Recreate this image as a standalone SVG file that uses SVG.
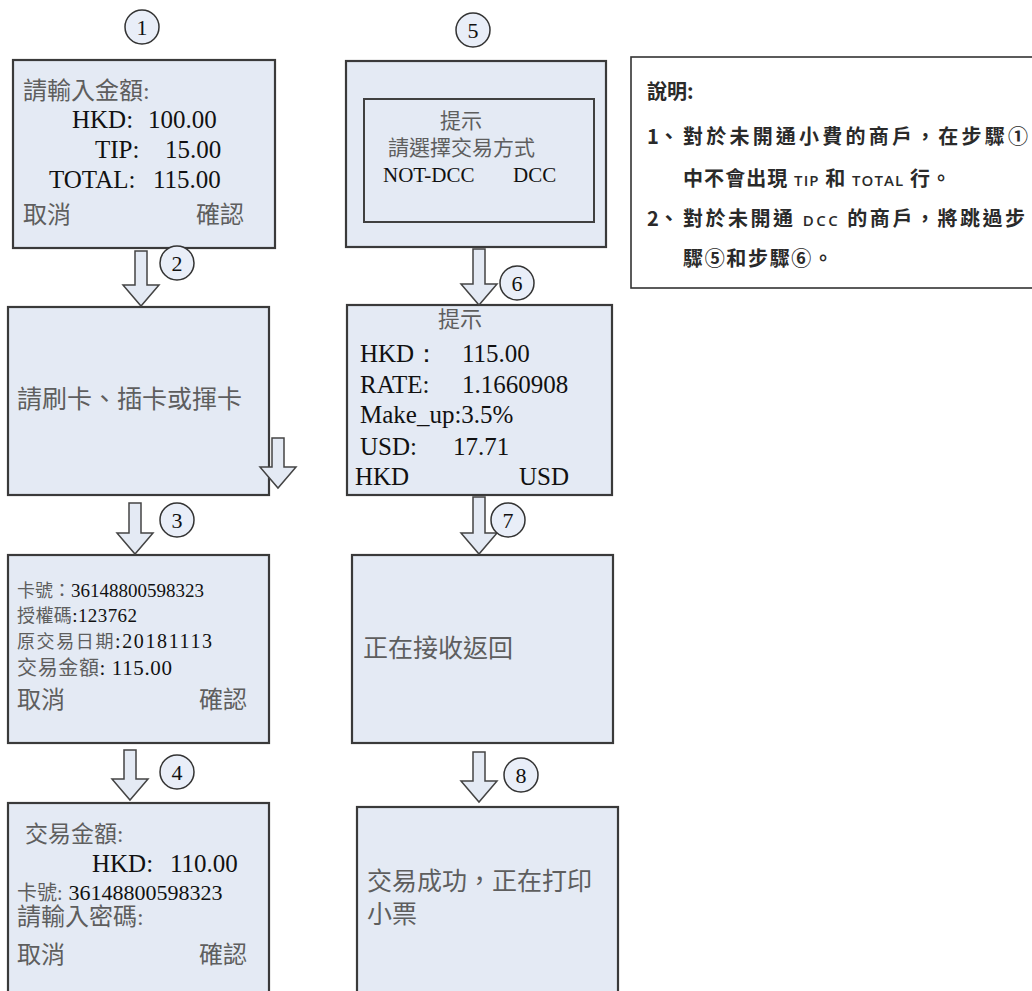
<svg xmlns="http://www.w3.org/2000/svg" width="1032" height="991" viewBox="0 0 1032 991">
<style>
.box{fill:#e4eaf4;stroke:#3a3a3a;stroke-width:2.2}
.inner{fill:#e4eaf4;stroke:#404040;stroke-width:2}
.arr{fill:#e4eaf4;stroke:#444;stroke-width:1.5;stroke-linejoin:miter}
.step{fill:#e9eef8;stroke:#333;stroke-width:1.5}
.num{font-family:"Liberation Serif",serif;font-size:22px;fill:#111;text-anchor:middle}
.cj{font-family:"Liberation Serif","Noto Sans CJK TC",serif;fill:#5e5e5e}
.en{font-family:"Liberation Serif",serif;fill:#111}
.note{font-family:"Noto Sans CJK TC","Noto Sans",sans-serif;fill:#2a2a2a;font-size:20px;font-weight:bold}
.lat{font-family:"Open Sans","Noto Sans",sans-serif;font-size:15px;font-weight:600}
</style>
<rect width="1032" height="991" fill="#ffffff"/>

<g id="step1">
<rect class="box" x="13" y="60" width="262" height="188"/>
<text class="cj" x="23" y="99" font-size="24">請輸入金額:</text>
<text class="en" x="72" y="128" font-size="25">HKD:</text>
<text class="en" x="148" y="128" font-size="25">100.00</text>
<text class="en" x="95" y="158" font-size="25">TIP:</text>
<text class="en" x="165" y="158" font-size="25">15.00</text>
<text class="en" x="49" y="188" font-size="25">TOTAL:</text>
<text class="en" x="153" y="188" font-size="25">115.00</text>
<text class="cj" x="23" y="223" font-size="24">取消</text>
<text class="cj" x="196" y="223" font-size="24">確認</text>
</g>

<g id="step2">
<rect class="box" x="8" y="307" width="261" height="188"/>
<text class="cj" x="17" y="408" font-size="25">請刷卡、插卡或揮卡</text>
</g>

<g id="step3">
<rect class="box" x="8" y="555" width="261" height="188"/>
<text x="17" y="597" font-size="18"><tspan class="cj">卡號：</tspan><tspan class="en" font-size="19">36148800598323</tspan></text>
<text x="17" y="622" font-size="18" textLength="120"><tspan class="cj">授權碼</tspan><tspan class="en" font-size="19">:123762</tspan></text>
<text x="17" y="648" font-size="18" textLength="195"><tspan class="cj">原交易日期</tspan><tspan class="en" font-size="20">:20181113</tspan></text>
<text x="17" y="675" font-size="20" textLength="155"><tspan class="cj">交易金額</tspan><tspan class="en" font-size="21">: 115.00</tspan></text>
<text class="cj" x="17" y="708" font-size="24" fill="#4a4a4a">取消</text>
<text class="cj" x="199" y="708" font-size="24">確認</text>
</g>

<g id="step4">
<rect class="box" x="8" y="803" width="261" height="190"/>
<text class="cj" x="25" y="842" font-size="23">交易金額:</text>
<text class="en" x="92" y="872" font-size="25">HKD:</text>
<text class="en" x="170" y="872" font-size="25">110.00</text>
<text x="17" y="900"><tspan class="cj" font-size="20">卡號:</tspan><tspan class="en" font-size="22" dx="6">36148800598323</tspan></text>
<text class="cj" x="17" y="925" font-size="24">請輸入密碼:</text>
<text class="cj" x="17" y="963" font-size="24" fill="#4a4a4a">取消</text>
<text class="cj" x="199" y="963" font-size="24">確認</text>
</g>

<g id="step5">
<rect class="box" x="346" y="61" width="260" height="186"/>
<rect class="inner" x="364" y="99" width="230" height="123"/>
<text class="cj" x="440" y="128" font-size="21">提示</text>
<text class="cj" x="388" y="155" font-size="21">請選擇交易方式</text>
<text class="en" x="383" y="182" font-size="21">NOT-DCC</text>
<text class="en" x="513" y="182" font-size="21">DCC</text>
</g>

<g id="step6">
<rect class="box" x="347" y="305" width="265" height="190"/>
<text class="cj" x="438" y="327" font-size="22">提示</text>
<text class="en" x="360" y="362" font-size="25">HKD：</text>
<text class="en" x="462" y="362" font-size="25">115.00</text>
<text class="en" x="360" y="393" font-size="25">RATE:</text>
<text class="en" x="462" y="393" font-size="25">1.1660908</text>
<text class="en" x="360" y="423" font-size="25">Make_up:3.5%</text>
<text class="en" x="360" y="455" font-size="25">USD:</text>
<text class="en" x="453" y="455" font-size="25">17.71</text>
<text class="en" x="355" y="485" font-size="25">HKD</text>
<text class="en" x="519" y="485" font-size="25">USD</text>
</g>

<g id="step7">
<rect class="box" x="352" y="555" width="261" height="188"/>
<text class="cj" x="363" y="657" font-size="25">正在接收返回</text>
</g>

<g id="step8">
<rect class="box" x="357" y="807" width="261" height="190"/>
<text class="cj" x="367" y="890" font-size="25">交易成功，正在打印</text>
<text class="cj" x="367" y="923" font-size="25">小票</text>
</g>

<g id="note">
<rect x="631" y="57" width="420" height="231" fill="#ffffff" stroke="#333" stroke-width="1.6"/>
<text class="note" x="647" y="99">說明:</text>
<text class="note" x="647" y="144">1、</text>
<text class="note" x="683" y="144" textLength="345">對於未開通小費的商戶，在步驟①</text>
<text class="note" x="683" y="186" textLength="268">中不會出現 <tspan class="lat">TIP</tspan> 和 <tspan class="lat">TOTAL</tspan> 行。</text>
<text class="note" x="647" y="226">2、</text>
<text class="note" x="683" y="226" textLength="342">對於未開通 <tspan class="lat">DCC</tspan> 的商戶，將跳過步</text>
<text class="note" x="683" y="266" textLength="150">驟⑤和步驟⑥。</text>
</g>

<g id="connectors">
<path class="arr" d="M135,251 H147 V285 H159 L141,306 L123,285 H135 Z"/>
<path class="arr" d="M272,438 H284 V467 H296 L278,488 L260,467 H272 Z"/>
<path class="arr" d="M129,503 H141 V533 H153 L135,554 L117,533 H129 Z"/>
<path class="arr" d="M124,750 H136 V779 H148 L130,800 L112,779 H124 Z"/>
<path class="arr" d="M473,249 H485 V284 H497 L479,305 L461,284 H473 Z"/>
<path class="arr" d="M473,497 H485 V533 H497 L479,554 L461,533 H473 Z"/>
<path class="arr" d="M473,752 H485 V781 H497 L479,802 L461,781 H473 Z"/>
<g id="step-labels">
<circle class="step" cx="142" cy="27" r="17"/><text class="num" x="142" y="35">1</text>
<circle class="step" cx="177" cy="263" r="17"/><text class="num" x="177" y="271">2</text>
<circle class="step" cx="177" cy="520" r="17"/><text class="num" x="177" y="528">3</text>
<circle class="step" cx="177" cy="772" r="17"/><text class="num" x="177" y="780">4</text>
<circle class="step" cx="473" cy="30" r="17"/><text class="num" x="473" y="38">5</text>
<circle class="step" cx="517" cy="283" r="17"/><text class="num" x="517" y="291">6</text>
<circle class="step" cx="508" cy="520" r="17"/><text class="num" x="508" y="528">7</text>
<circle class="step" cx="521" cy="775" r="17"/><text class="num" x="521" y="783">8</text>
</g>
</g>
</svg>
